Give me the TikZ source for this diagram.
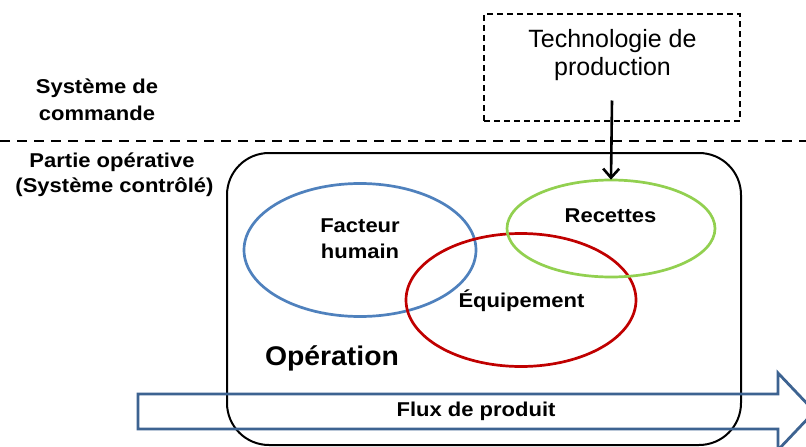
\documentclass[tikz,border=0pt]{standalone}
\usepackage{fontspec}
\setmainfont{Liberation Sans}
\usetikzlibrary{shapes.geometric,arrows.meta}
\definecolor{cblue}{HTML}{4F81BD}
\definecolor{cred}{HTML}{C00000}
\definecolor{cgreen}{HTML}{92D050}
\definecolor{cflow}{HTML}{3D6391}
\newcommand{\wx}[1]{\scalebox{1.1}[1]{#1}}
\begin{document}
\begin{tikzpicture}[x=1pt,y=-1pt,
  lbl/.style={font=\bfseries\fontsize{20}{24}\selectfont, inner sep=0pt, anchor=base},
  ell/.style={ellipse, line width=2.7pt, inner sep=0pt},
]
\useasboundingbox (0,0) rectangle (806,447);
\fill[white] (0,0) rectangle (806,447);
% dashed separator
\coordinate (sepL) at (0,141);
\coordinate (sepR) at (806,141);
\draw[line width=2pt, dash pattern=on 10pt off 7pt] (sepL) -- (sepR);
% technology box
\node[draw, line width=1.2pt, dash pattern=on 6pt off 4pt, minimum width=256pt, minimum height=107pt, inner sep=0pt] (tech) at (612,67.5) {};
\node[font=\fontsize{25}{28}\selectfont, inner sep=0pt, anchor=base] (tech1) at (612.5,47) {Technologie de};
\node[font=\fontsize{25}{28}\selectfont, inner sep=0pt, anchor=base] (tech2) at (612.5,75) {production};
% operation box
\draw[line width=2pt, rounded corners=42pt] (227,153) rectangle (741,445);
% ellipses
\node[ell, draw=cblue, minimum width=232pt, minimum height=133pt] (fh) at (360,250) {};
\node[ell, draw=cred, minimum width=230pt, minimum height=133pt] (eq) at (521,300) {};
\node[ell, draw=cgreen, minimum width=208pt, minimum height=97pt] (rc) at (611,228.5) {};
% arrow
\coordinate (arrS) at (612,100.5);
\draw[line width=2.6pt, -{Straight Barb[length=9pt,width=16pt,line width=2.6pt]}] (arrS) -- ([yshift=-1pt]rc.north);
% labels
\node[lbl] (lsys1) at (97,93) {\wx{Système de}};
\node[lbl] (lsys2) at (97,120) {\wx{commande}};
\node[lbl] (lpart1) at (112,167) {\wx{Partie opérative}};
\node[lbl] (lpart2) at (114.5,192) {\wx{(Système contrôlé)}};
\node[lbl] (lfh1) at (360,232) {\wx{Facteur}};
\node[lbl] (lfh2) at (360,258) {\wx{humain}};
\node[lbl] (lrc) at (610.5,222) {\wx{Recettes}};
\node[lbl] (leq) at (521.5,307.5) {\wx{Équipement}};
\node[lbl, font=\bfseries\fontsize{27}{30}\selectfont] (lop) at (332,365) {\scalebox{1.05}[1]{Opération}};
% product flow arrow
\draw[cflow, line width=2.8pt, line join=miter]
  (138,394) -- (778,394) -- (778,373) -- (814.5,411.5) -- (778,450) -- (778,429) -- (138,429) -- cycle;
\node[lbl] (lflux) at (476,416) {\wx{Flux de produit}};
\end{tikzpicture}
\end{document}
